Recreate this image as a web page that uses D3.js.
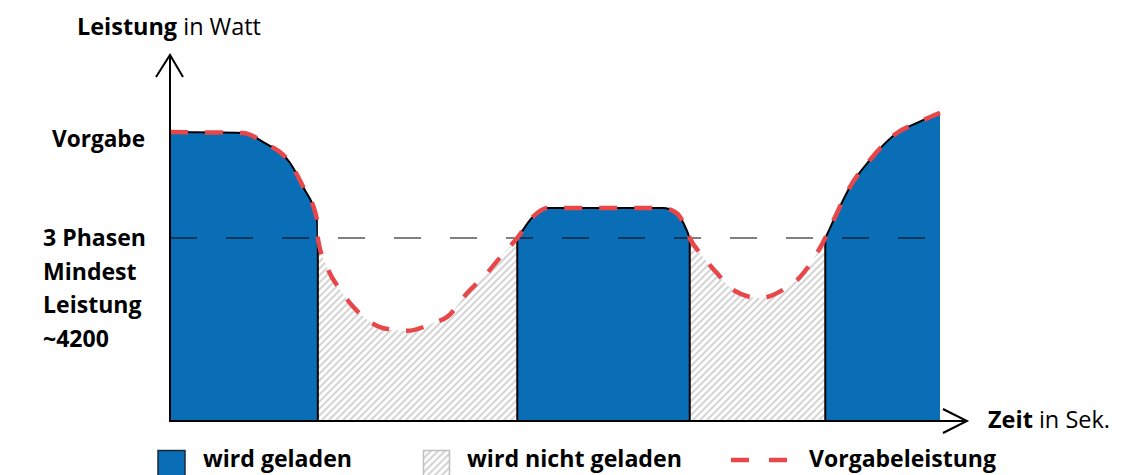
<!DOCTYPE html>
<html>
<head>
<meta charset="utf-8">
<script src="https://cdn.jsdelivr.net/npm/d3@7/dist/d3.min.js"></script>
<style>
  html, body { margin: 0; padding: 0; background: #fff; }
  svg { display: block; font-family: "Open Sans", Lato, sans-serif; }
</style>
</head>
<body>
<svg id="chart" width="1144" height="475"></svg>
<script>
// ---- data (time in arbitrary seconds, power in Watt) ----
const timeValues  = [0, 9.5, 12.1, 15.6, 17.3, 19.1, 19.2, 20.4, 22.1, 23.8, 25.6, 27.7, 30.8, 34.2, 36.0, 38.6, 41.2, 42.9, 45.1, 47.1, 49.0, 64.0, 65.8, 67.1, 67.5, 68.8, 71.0, 73.1, 76.6, 79.6, 81.8, 83.5, 85.1, 86.6, 88.3, 90.9, 94.4, 97.0, 100];
const powerValues = [6630, 6610, 6400, 5920, 5370, 4610, 4200, 3530, 3010, 2620, 2320, 2130, 2070, 2250, 2390, 2940, 3400, 3760, 4200, 4680, 4890, 4890, 4770, 4380, 4200, 3860, 3400, 3010, 2820, 3010, 3300, 3700, 4200, 4770, 5370, 5990, 6610, 6840, 7070];
const minPower = 4200;                       // 3 Phasen Mindestleistung
const segmentStarts = [0, 19.2, 45.1, 67.5, 85.1];
const segmentEnds   = [19.2, 45.1, 67.5, 85.1, 100];
const segmentCharged = [true, false, true, false, true];
const yLabelLines = ["3 Phasen", "Mindest", "Leistung", "~4200"];
const legendLabels = ["wird geladen", "wird nicht geladen", "Vorgabeleistung"];

const data = timeValues.map((t, i) => ({ t, p: powerValues[i] }));

// ---- layout ----
const svg = d3.select("#chart");
const x = d3.scaleLinear().domain([0, 100]).range([170, 940]);
const y = d3.scaleLinear().domain([0, 8400]).range([421, 55]);
const xAxisEnd = 103.5;

const BLUE = "#0a6eb7", RED = "#e8474a";

const defs = svg.append("defs");
const pat = defs.append("pattern").attr("id", "hatch")
  .attr("patternUnits", "userSpaceOnUse").attr("width", 7).attr("height", 7);
pat.append("rect").attr("width", 7).attr("height", 7).attr("fill", "#fff");
pat.append("path").attr("d", "M-1,1 l2,-2 M0,7 l7,-7 M6,8 l2,-2")
  .attr("stroke", "#d6d6d6").attr("stroke-width", 2.2);

segmentStarts.forEach((s, i) => {
  defs.append("clipPath").attr("id", "seg" + i).append("rect")
    .attr("x", x(s)).attr("y", 0)
    .attr("width", x(segmentEnds[i]) - x(s)).attr("height", y(0) + 1);
});

const curve = d3.curveMonotoneX;
const area = d3.area().x(d => x(d.t)).y0(y(0)).y1(d => y(d.p)).curve(curve);
const line = d3.line().x(d => x(d.t)).y(d => y(d.p)).curve(curve);

// fills
segmentStarts.forEach((s, i) => {
  svg.append("path").datum(data).attr("d", area)
    .attr("clip-path", `url(#seg${i})`)
    .attr("fill", segmentCharged[i] ? BLUE : "url(#hatch)");
});

// black outline of charged parts
segmentStarts.forEach((s, i) => {
  if (!segmentCharged[i]) return;
  svg.append("path").datum(data).attr("d", line)
    .attr("clip-path", `url(#seg${i})`)
    .attr("fill", "none").attr("stroke", "#000").attr("stroke-width", 2);
});

// vertical boundary lines
segmentEnds.slice(0, -1).forEach(t => {
  svg.append("line").attr("x1", x(t)).attr("x2", x(t))
    .attr("y1", y(minPower)).attr("y2", y(0))
    .attr("stroke", "#000").attr("stroke-width", 2);
});

// threshold dashed line
svg.append("line").attr("x1", x(0)).attr("x2", x(99))
  .attr("y1", y(minPower)).attr("y2", y(minPower))
  .attr("stroke", "#000").attr("stroke-width", 1)
  .attr("stroke-dasharray", "27,29");

// red dashed Vorgabe line
svg.append("path").datum(data).attr("d", line)
  .attr("fill", "none").attr("stroke", RED).attr("stroke-width", 4.5)
  .attr("stroke-dasharray", "18,17");

// axes
const ax = svg.append("g").attr("stroke", "#000").attr("stroke-width", 2).attr("fill", "none");
ax.append("line").attr("x1", x(0)).attr("x2", x(0)).attr("y1", y(0) + 1).attr("y2", y(8400));
ax.append("path").attr("d", `M${x(0) - 14},${y(8400) + 22} L${x(0)},${y(8400)} L${x(0) + 13},${y(8400) + 22}`);
ax.append("line").attr("x1", x(0) - 1).attr("x2", x(xAxisEnd)).attr("y1", y(0)).attr("y2", y(0));
ax.append("path").attr("d", `M${x(xAxisEnd) - 24},${y(0) - 12} L${x(xAxisEnd)},${y(0)} L${x(xAxisEnd) - 24},${y(0) + 12}`);

// text helper: size the text so it spans the same width as in the reference
function fit(sel, targetWidth) {
  const base = 22;
  sel.attr("font-size", base);
  const w = sel.node().getComputedTextLength();
  sel.attr("font-size", (base * targetWidth / w).toFixed(2));
  return sel;
}

// axis titles
const yt = svg.append("text").attr("x", 77).attr("y", 35).attr("fill", "#000");
yt.append("tspan").attr("font-weight", "bold").text("Leistung");
yt.append("tspan").text(" in Watt");
fit(yt, 184);
const xt = svg.append("text").attr("x", 988).attr("y", 428).attr("fill", "#000");
xt.append("tspan").attr("font-weight", "bold").text("Zeit");
xt.append("tspan").text(" in Sek.");
fit(xt, 122);

fit(svg.append("text").attr("x", 52).attr("y", 147)
  .attr("font-weight", "bold").text("Vorgabe"), 93);
const yl = yLabelLines.map((l, i) =>
  svg.append("text").attr("x", 43).attr("y", 246 + i * 33.7)
    .attr("font-weight", "bold").text(l));
fit(yl[0], 103);
yl.slice(1).forEach(s => s.attr("font-size", yl[0].attr("font-size")));

// legend
const lg = svg.append("g");
const legendBase = 467;
lg.append("rect").attr("x", 158).attr("y", 450.5).attr("width", 27).attr("height", 30)
  .attr("fill", BLUE).attr("stroke", "#1b2a3a").attr("stroke-width", 1.5);
fit(lg.append("text").attr("x", 203).attr("y", legendBase).attr("font-weight", "bold").text(legendLabels[0]), 149);
lg.append("rect").attr("x", 423.5).attr("y", 450.5).attr("width", 26).attr("height", 30)
  .attr("fill", "url(#hatch)").attr("stroke", "#bfbfbf").attr("stroke-width", 1.5);
fit(lg.append("text").attr("x", 467).attr("y", legendBase).attr("font-weight", "bold").text(legendLabels[1]), 215);
lg.append("line").attr("x1", 731).attr("x2", 787).attr("y1", 460).attr("y2", 460)
  .attr("stroke", RED).attr("stroke-width", 4.5).attr("stroke-dasharray", "18,20");
fit(lg.append("text").attr("x", 809).attr("y", legendBase).attr("font-weight", "bold").text(legendLabels[2]), 187);
</script>
</body>
</html>
